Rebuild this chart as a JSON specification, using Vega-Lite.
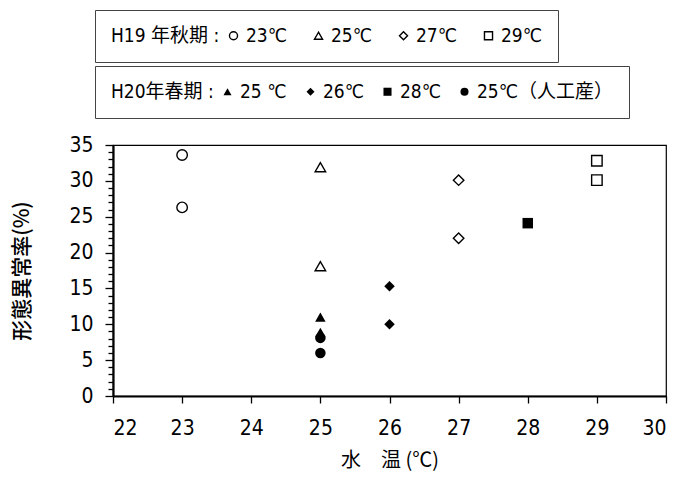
{
  "$schema": "https://vega.github.io/schema/vega-lite/v6.json",
  "autosize": {"type": "none"},
  "padding": {"left": 113, "top": 145, "right": 12, "bottom": 82},
  "width": 553,
  "height": 251,
  "background": "white",
  "config": {
    "font": "Liberation Sans Narrow, DejaVu Sans Condensed, Liberation Sans, Noto Sans CJK JP",
    "view": {"stroke": "black", "strokeWidth": 1.2},
    "axis": {
      "domainColor": "black", "domainWidth": 2.2, "tickColor": "black", "tickWidth": 1.3,
      "labelColor": "black", "labelFontSize": 21, "titleColor": "black", "grid": false,
      "labelFont": "Liberation Sans Narrow, DejaVu Sans Condensed, Liberation Sans", "titleFont": "Noto Sans CJK JP, Liberation Sans",
      "titleFontWeight": "normal", "titleFontSize": 19
    },
    "legend": {
      "orient": "none", "direction": "horizontal", "titleOrient": "left",
      "strokeColor": "#444", "padding": 15, "titleFontSize": 19, "labelFontSize": 19,
      "titleFontWeight": "normal", "titleColor": "black", "labelColor": "black",
      "titleFont": "Liberation Sans Narrow, DejaVu Sans Condensed, Noto Sans CJK JP", "labelFont": "Liberation Sans Narrow, DejaVu Sans Condensed, Noto Sans CJK JP",
      "symbolSize": 65, "symbolStrokeWidth": 1.4, "symbolStrokeColor": "black", "labelOffset": 3, "titlePadding": 4
    }
  },
  "data": {"values": [
    {"group": "H19", "label": "23℃", "temp": 23, "rate": 33.6},
    {"group": "H19", "label": "23℃", "temp": 23, "rate": 26.3},
    {"group": "H19", "label": "25℃", "temp": 25, "rate": 31.9},
    {"group": "H19", "label": "25℃", "temp": 25, "rate": 18.1},
    {"group": "H19", "label": "27℃", "temp": 27, "rate": 30.1},
    {"group": "H19", "label": "27℃", "temp": 27, "rate": 22.0},
    {"group": "H19", "label": "29℃", "temp": 29, "rate": 32.8},
    {"group": "H19", "label": "29℃", "temp": 29, "rate": 30.1},
    {"group": "H20", "label": "25 ℃", "temp": 25, "rate": 11.0},
    {"group": "H20", "label": "25 ℃", "temp": 25, "rate": 8.9},
    {"group": "H20", "label": "26℃", "temp": 26, "rate": 15.3},
    {"group": "H20", "label": "26℃", "temp": 26, "rate": 10.0},
    {"group": "H20", "label": "28℃", "temp": 28, "rate": 24.1},
    {"group": "H20", "label": "25℃（人工産）", "temp": 25, "rate": 8.1},
    {"group": "H20", "label": "25℃（人工産）", "temp": 25, "rate": 6.0}
  ]},
  "encoding": {
    "x": {"field": "temp", "type": "quantitative", "scale": {"domain": [22, 30], "nice": false},
      "axis": {"title": "水　温 (℃)", "values": [22, 23, 24, 25, 26, 27, 28, 29, 30], "tickSize": 7, "labelPadding": 14, "titlePadding": 12, "titleFontSize": 20}},
    "y": {"field": "rate", "type": "quantitative", "scale": {"domain": [0, 35], "nice": false},
      "axis": {"title": "形態異常率(%)", "values": [0,1,2,3,4,5,6,7,8,9,10,11,12,13,14,15,16,17,18,19,20,21,22,23,24,25,26,27,28,29,30,31,32,33,34,35],
        "labelExpr": "datum.value % 5 === 0 ? datum.label : ''", "labelOverlap": false,
        "tickSize": {"condition": {"test": "datum.value % 5 === 0", "value": 8}, "value": 5},
        "labelPadding": 12, "titlePadding": 36, "titleFontWeight": 500, "titleFontSize": 21}}
  },
  "layer": [
    {
      "transform": [{"filter": "datum.group === 'H19'"}],
      "mark": {"type": "point", "filled": false, "color": "black", "strokeWidth": 1.4, "size": 110, "opacity": 1},
      "encoding": {
        "shape": {"field": "label", "type": "nominal",
          "scale": {"domain": ["23℃", "25℃", "27℃", "29℃"], "range": ["circle", "triangle-up", "diamond", "square"]},
          "legend": {"title": "H19 年秋期 :", "legendX": -18, "legendY": -135, "columnPadding": 22, "padding": 16,
            "encode": {"legend": {"update": {"width": {"value": 590}}}}}}
      }
    },
    {
      "transform": [{"filter": "datum.group === 'H20'"}],
      "mark": {"type": "point", "filled": true, "color": "black", "size": 110, "opacity": 1},
      "encoding": {
        "shape": {"field": "label", "type": "nominal",
          "scale": {"domain": ["25 ℃", "26℃", "28℃", "25℃（人工産）"], "range": ["triangle-up", "diamond", "square", "circle"]},
          "legend": {"title": "H20年春期 :", "legendX": -18, "legendY": -79, "columnPadding": 14, "padding": 16,
            "encode": {"legend": {"update": {"width": {"value": 590}}}}}}
      }
    }
  ],
  "resolve": {"scale": {"shape": "independent"}, "legend": {"shape": "independent"}}
}
